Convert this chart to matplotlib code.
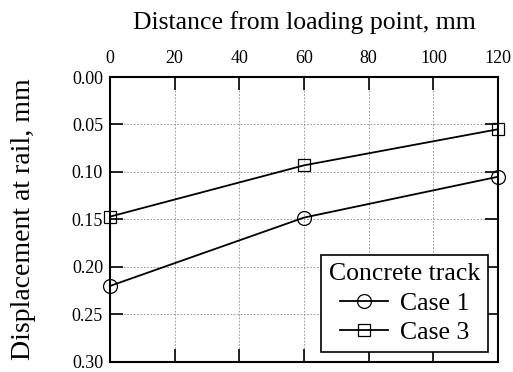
import matplotlib
matplotlib.use("Agg")
import matplotlib.pyplot as plt

distance = [0, 60, 120]
case1 = [0.220, 0.148, 0.105]
case3 = [0.147, 0.093, 0.055]
xticks = [0, 20, 40, 60, 80, 100, 120]
yticks = [0.00, 0.05, 0.10, 0.15, 0.20, 0.25, 0.30]

plt.rcParams['font.family'] = ['Liberation Serif', 'DejaVu Serif']
fig = plt.figure(figsize=(5.13, 3.72), dpi=100)
ax = fig.add_axes([0.2144, 0.027, 0.7564, 0.766])

ax.plot(distance, case1, color='black', lw=1.3, marker='o', ms=10, mfc='none', mec='black', mew=0.9, label='Case 1', clip_on=False, zorder=3)
ax.plot(distance, case3, color='black', lw=1.3, marker='s', ms=9, mfc='none', mec='black', mew=0.9, label='Case 3', clip_on=False, zorder=3)

ax.set_xlim(0, 120)
ax.set_ylim(0.30, 0.00)
ax.set_xticks(xticks)
ax.set_yticks(yticks)
ax.set_yticklabels([f"{v:.2f}" for v in yticks])
ax.xaxis.set_ticks_position('both')
ax.yaxis.set_ticks_position('both')
ax.tick_params(axis='both', direction='in', length=9.5, width=1.2, labelsize=13,
               top=True, bottom=True, left=True, right=True,
               labeltop=True, labelbottom=False, labelleft=True, labelright=False)
ax.tick_params(axis='x', pad=7.5)
ax.tick_params(axis='y', pad=5)
ax.xaxis.set_label_position('top')
ax.set_xlabel('Distance from loading point, mm', fontsize=18.5, labelpad=15)
ax.set_ylabel('Displacement at rail, mm', fontsize=20, labelpad=26)
for s in ax.spines.values():
    s.set_linewidth(1.5)
ax.grid(True, color='#888888', linestyle=(0, (2, 2)), linewidth=0.6)

leg = ax.legend(title='Concrete track', loc='lower right', fontsize=18.5, title_fontsize=18.5,
                fancybox=False, edgecolor='black', framealpha=1, handlelength=1.9,
                borderpad=0.3, labelspacing=0.25, handletextpad=0.45, borderaxespad=0.4)
leg.get_frame().set_linewidth(1.2)

fig.savefig('out.png', dpi=100)
